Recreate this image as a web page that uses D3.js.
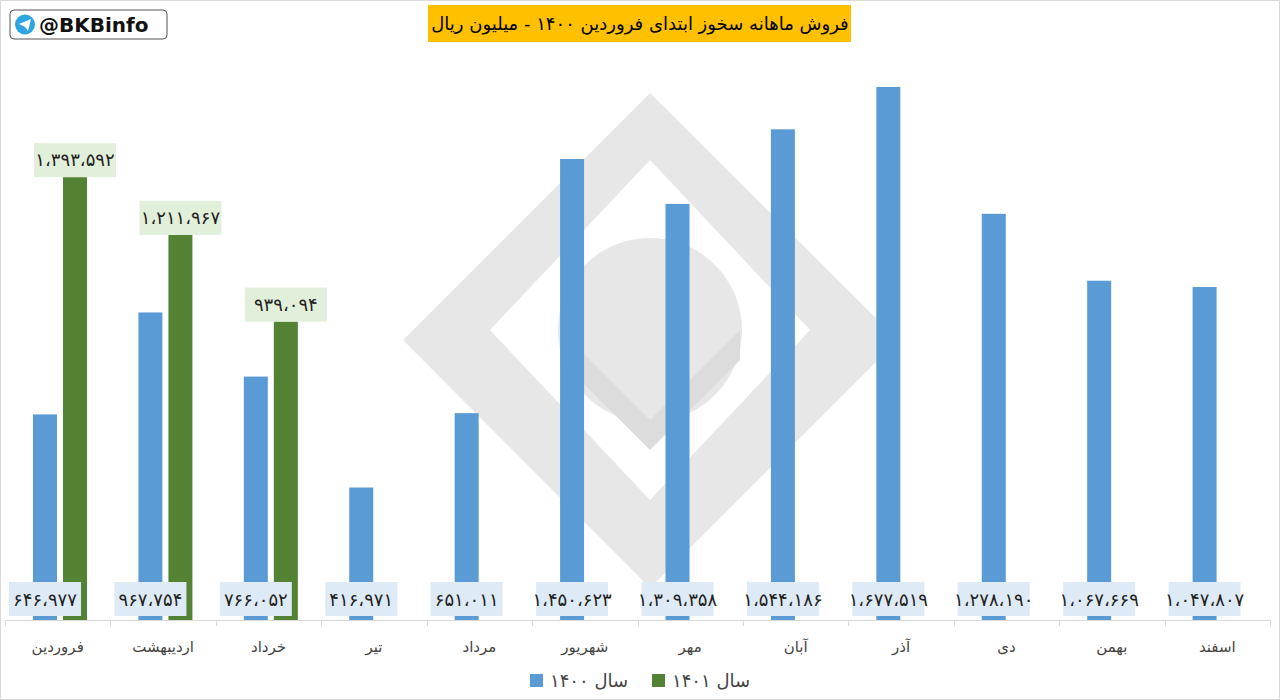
<!DOCTYPE html>
<html><head><meta charset="utf-8">
<script src="https://cdn.jsdelivr.net/npm/d3@7"></script>
<style>body{margin:0;background:#fff}text{font-family:"DejaVu Sans",sans-serif}</style>
</head><body><div id="chart"></div>
<script>
var w = 1280, h = 700;
var months = ["فروردین","اردیبهشت","خرداد","تیر","مرداد","شهریور","مهر","آبان","آذر","دی","بهمن","اسفند"];
var sales1400 = [646977,967754,766052,416971,651011,1450623,1309358,1544186,1677519,1278190,1067669,1047807];
var sales1401 = [1393592,1211967,939094];
var seriesNames = ["سال ۱۴۰۰","سال ۱۴۰۱"];
var colors = ["#5b9bd5","#548235"];

function fa(n) {
  return d3.format(",")(n).replace(/,/g,"،").replace(/\d/g, function(d){ return "۰۱۲۳۴۵۶۷۸۹"[d]; });
}

var svg = d3.select("#chart").append("svg").attr("width", w).attr("height", h);
svg.append("rect").attr("x",0.5).attr("y",0.5).attr("width",w-1).attr("height",h-1).attr("fill","#fff").attr("stroke","#d9d9d9");

// watermark
var wm = svg.append("g").attr("fill","#e3e3e3").attr("opacity",0.85);
wm.append("path").attr("d","M650,93 L898,340 L650,588 L403,340 Z M650,160 L490,330 L650,500 L810,330 Z").attr("fill-rule","evenodd");
wm.append("circle").attr("cx",650).attr("cy",330).attr("r",92);
wm.append("path").attr("d","M560,330 L650,420 L740,330 L740,360 L650,450 L560,360 Z").attr("fill","#d6d6d6");

var x = d3.scaleBand().domain(months).range([5,1270]);
var y = d3.scaleLinear().domain([0,1800000]).range([620,48]);
var bw = 24;

svg.append("line").attr("x1",5).attr("x2",1270).attr("y1",620.5).attr("y2",620.5).attr("stroke","#d9d9d9");
svg.selectAll(".tick").data(d3.range(13)).enter().append("line")
  .attr("x1", function(i){ return Math.round(5 + i*x.bandwidth())+0.5; })
  .attr("x2", function(i){ return Math.round(5 + i*x.bandwidth())+0.5; })
  .attr("y1",620).attr("y2",626).attr("stroke","#d9d9d9");

svg.selectAll(".b0").data(sales1400).enter().append("rect")
  .attr("x", function(d,i){ return x(months[i]) + 28; })
  .attr("y", function(d){ return y(d); })
  .attr("width", bw).attr("height", function(d){ return 620 - y(d); })
  .attr("fill", colors[0]);
svg.selectAll(".b1").data(sales1401).enter().append("rect")
  .attr("x", function(d,i){ return x(months[i]) + 58; })
  .attr("y", function(d){ return y(d); })
  .attr("width", bw).attr("height", function(d){ return 620 - y(d); })
  .attr("fill", colors[1]);

// labels 1400
var l0 = svg.selectAll(".l0").data(sales1400).enter().append("g")
  .attr("transform", function(d,i){ return "translate(" + (x(months[i]) + 40) + ",600)"; });
l0.append("rect").attr("x",-36).attr("y",-18).attr("width",72).attr("height",34).attr("fill","#deebf7");
l0.append("text").attr("text-anchor","middle").attr("dy","0.35em").attr("font-size",18).attr("fill","#222").text(fa);

var l1 = svg.selectAll(".l1").data(sales1401).enter().append("g")
  .attr("transform", function(d,i){ return "translate(" + (x(months[i]) + 70) + "," + (y(d) - 17) + ")"; });
l1.append("rect").attr("x",-41).attr("y",-17).attr("width",82).attr("height",34).attr("fill","#e2efda");
l1.append("text").attr("text-anchor","middle").attr("dy","0.35em").attr("font-size",18).attr("fill","#222").text(fa);

svg.selectAll(".cat").data(months).enter().append("text")
  .attr("x", function(d){ return x(d) + x.bandwidth()/2; }).attr("y",652)
  .attr("text-anchor","middle").attr("font-size",15).attr("fill","#444").text(function(d){ return d; });

// title
svg.append("rect").attr("x",428).attr("y",5).attr("width",423).attr("height",37).attr("fill","#ffc000");
svg.append("text").attr("x",640).attr("y",30).attr("text-anchor","middle").attr("font-size",18).attr("fill","#000")
  .text("فروش ماهانه سخوز ابتدای فروردین ۱۴۰۰ - میلیون ریال");

// legend
var leg = svg.selectAll(".leg").data(seriesNames).enter().append("g")
  .attr("transform", function(d,i){ return "translate(" + (i==0 ? 530 : 652) + ",674)"; });
leg.append("rect").attr("width",13).attr("height",13).attr("fill", function(d,i){ return colors[i]; });
leg.append("text").attr("x",20).attr("y",13).attr("font-size",18).attr("fill","#444").text(function(d){ return d; });

// logo
var lg = svg.append("g");
lg.append("rect").attr("x",10).attr("y",10).attr("width",157).attr("height",29).attr("rx",4).attr("fill","#fff").attr("stroke","#555");
lg.append("circle").attr("cx",25).attr("cy",24.5).attr("r",10).attr("fill","#2ca5e0");
lg.append("path").attr("d","M19,24 L31,19 L28,31 L25,27 Z").attr("fill","#fff");
lg.append("text").attr("x",39).attr("y",32).attr("font-size",20).attr("font-weight","bold").attr("font-family","Liberation Sans, Arial").attr("fill","#111").text("@BKBinfo");
</script></body></html>
